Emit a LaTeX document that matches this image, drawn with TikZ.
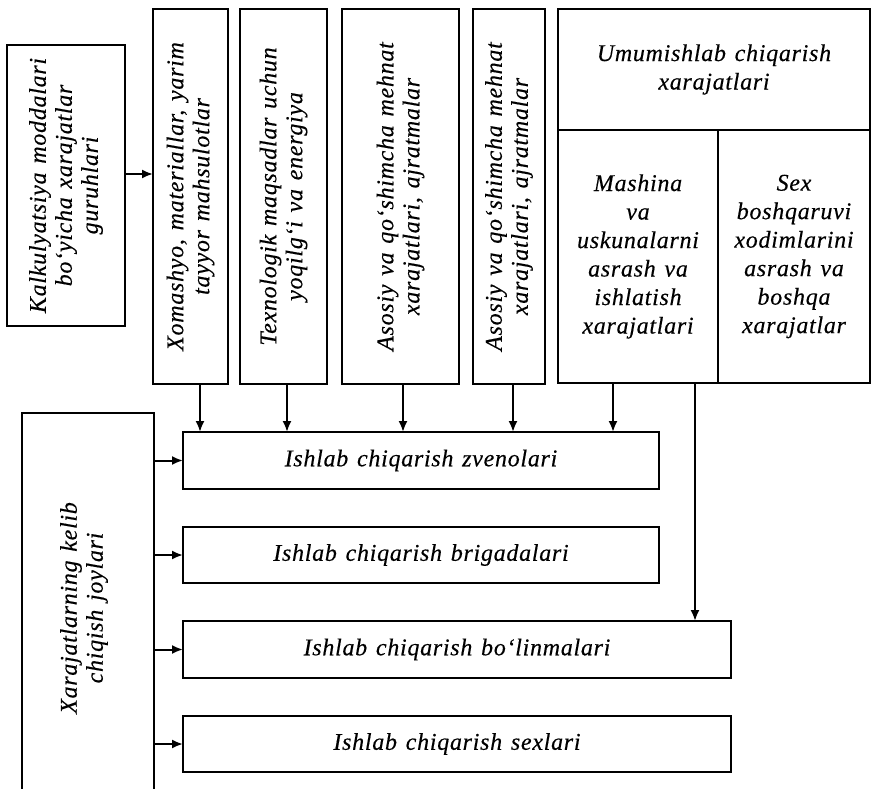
\documentclass[tikz,border=0pt]{standalone}
\usepackage{fontspec}
\newfontfamily\dfont{Liberation Serif Italic}[LetterSpace=3, WordSpace=1.3, FakeBold=0.3]
\usetikzlibrary{arrows.meta}
\tikzset{
  box/.style={draw, line width=2pt, inner sep=0pt, outer sep=0pt, rectangle},
  txt/.style={inner sep=0pt, align=center, font=\dfont\fontsize{24}{28.5}\selectfont},
  rtxt/.style={inner sep=0pt, align=center, rotate=90, font=\dfont\fontsize{24}{26}\selectfont},
  arr/.style={line width=2pt, -{Latex[length=11pt,width=9pt]}}
}
\begin{document}
\begin{tikzpicture}[x=1pt,y=-1pt]
\clip (0,0) rectangle (872,789);
\fill[white] (0,0) rectangle (872,789);
% top boxes
\node[box, minimum width=118pt, minimum height=281pt] (K) at (66,185.5) {};
\node[rtxt] (Kt) at (K.center) {Kalkulyatsiya moddalari\\bo‘yicha xarajatlar\\guruhlari};
\node[box, minimum width=75pt, minimum height=375pt] (X) at (190.5,196.5) {};
\node[rtxt] (Xt) at (X.center) {Xomashyo, materiallar, yarim\\tayyor mahsulotlar};
\node[box, minimum width=87pt, minimum height=375pt] (T) at (283.5,196.5) {};
\node[rtxt] (Tt) at (T.center) {Texnologik maqsadlar uchun\\yoqilg‘i va energiya};
\node[box, minimum width=117pt, minimum height=375pt] (A1) at (400.5,196.5) {};
\node[rtxt] (A1t) at (A1.center) {Asosiy va qo‘shimcha mehnat\\xarajatlari, ajratmalar};
\node[box, minimum width=72pt, minimum height=375pt] (A2) at (509,196.5) {};
\node[rtxt] (A2t) at (A2.center) {Asosiy va qo‘shimcha mehnat\\xarajatlari, ajratmalar};
\node[box, minimum width=312pt, minimum height=121pt] (U) at (714,69.5) {};
\node[txt] (Ut) at (U.center) {Umumishlab chiqarish\\xarajatlari};
\node[box, minimum width=160pt, minimum height=253pt] (M) at (638,256.5) {};
\node[txt] (Mt) at (M.center) {Mashina\\va\\uskunalarni\\asrash va\\ishlatish\\xarajatlari};
\node[box, minimum width=152pt, minimum height=253pt] (Sx) at (794,256.5) {};
\node[txt] (Sxt) at (Sx.center) {Sex\\boshqaruvi\\xodimlarini\\asrash va\\boshqa\\xarajatlar};
% bottom boxes
\node[box, minimum width=132pt, minimum height=387pt] (F) at (88,606.5) {};
\node[rtxt] (Ft) at (84,608) {Xarajatlarning kelib\\chiqish joylari};
\node[box, minimum width=476pt, minimum height=57pt] (Z) at (421,460.5) {};
\node[txt] (Zt) at (Z.center) {Ishlab chiqarish zvenolari};
\node[box, minimum width=476pt, minimum height=56pt] (Br) at (421,555) {};
\node[txt] (Brt) at (Br.center) {Ishlab chiqarish brigadalari};
\node[box, minimum width=548pt, minimum height=57pt] (B) at (457,649.5) {};
\node[txt] (Bt) at (B.center) {Ishlab chiqarish bo‘linmalari};
\node[box, minimum width=548pt, minimum height=56pt] (S) at (457,744) {};
\node[txt] (St) at (S.center) {Ishlab chiqarish sexlari};
% arrows
\draw[arr] ([yshift=11.5pt]K.east) -- ([yshift=11.5pt]K.east -| X.west);
\draw[arr] ([xshift=9.5pt]X.south) -- ([xshift=9.5pt]X.south |- Z.north);
\draw[arr] ([xshift=3.5pt]T.south) -- ([xshift=3.5pt]T.south |- Z.north);
\draw[arr] ([xshift=2.5pt]A1.south) -- ([xshift=2.5pt]A1.south |- Z.north);
\draw[arr] ([xshift=4pt]A2.south) -- ([xshift=4pt]A2.south |- Z.north);
\draw[arr] ([xshift=-25pt]M.south) -- ([xshift=-25pt]M.south |- Z.north);
\draw[arr] ([xshift=57pt]M.south) -- ([xshift=57pt]M.south |- B.north);
\draw[arr] (F.east |- Z.west) -- (Z.west);
\draw[arr] (F.east |- Br.west) -- (Br.west);
\draw[arr] (F.east |- B.west) -- (B.west);
\draw[arr] (F.east |- S.west) -- (S.west);
\end{tikzpicture}
\end{document}
